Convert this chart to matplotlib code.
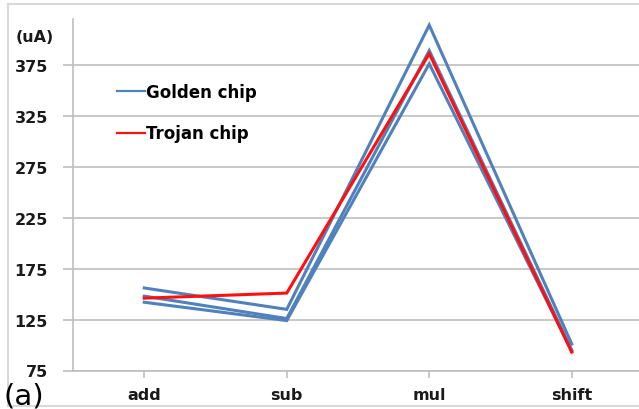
import matplotlib.pyplot as plt
from matplotlib.lines import Line2D

# supply current per operation (uA)
ops = ['add', 'sub', 'mul', 'shift']
golden_1 = [156, 135, 414, 101]
golden_2 = [148, 126, 389, 95]
golden_3 = [142, 124, 376, 94]
trojan = [146, 151, 386, 93]
yticks = [75, 125, 175, 225, 275, 325, 375]

blue = '#4F81BD'
red = '#FF1010'
grid_c = '#BFBFBF'
txt_c = '#1a1a1a'

W, H = 639, 410
fig = plt.figure(figsize=(W / 100, H / 100), dpi=100)

# light frame round the chart area: top, left and bottom edges only
frame = dict(transform=fig.transFigure, color='#D9D9D9', lw=1.5)
fig.add_artist(Line2D([8 / W, 1.0], [1 - 5 / H, 1 - 5 / H], **frame))
fig.add_artist(Line2D([8 / W, 8 / W], [1 - 5 / H, 1 - 407 / H], **frame))
fig.add_artist(Line2D([8 / W, 1.0], [1 - 407 / H, 1 - 407 / H], **frame))

ax = fig.add_axes([73 / W, 1 - 371.5 / H, 570 / W, 351.5 / H])

x = list(range(len(ops)))
for g in (golden_1, golden_2, golden_3):
    ax.plot(x, g, color=blue, lw=2.2, solid_joinstyle='miter')
ax.plot(x, trojan, color=red, lw=2.2, solid_joinstyle='miter')

ax.set_xlim(-0.5, 3.5)
ax.set_ylim(75, 420)
ax.set_xticks(x)
ax.set_xticklabels(ops)
ax.set_yticks(yticks)

for s in ['top', 'right']:
    ax.spines[s].set_visible(False)
for s in ['left', 'bottom']:
    ax.spines[s].set_color(grid_c)
    ax.spines[s].set_linewidth(1.2)

ax.yaxis.grid(True, color=grid_c, lw=1.2)
ax.set_axisbelow(True)
ax.tick_params(axis='y', length=7, width=1.2, color=grid_c, pad=11,
               labelsize=11.5, labelcolor=txt_c)
ax.tick_params(axis='x', length=5, width=1.2, color=grid_c, pad=7,
               labelsize=11.5, labelcolor=txt_c)
for lab in ax.get_xticklabels() + ax.get_yticklabels():
    lab.set_fontweight('bold')

fig.text(16 / W, 1 - 38 / H, '(uA)', ha='left', va='center',
         fontsize=11.5, fontweight='bold', color=txt_c)
fig.text(3 / W, 1 - 397 / H, '(a)', ha='left', va='center',
         fontsize=21, color='black')

handles = [Line2D([], [], color=blue, lw=1.6),
           Line2D([], [], color=red, lw=1.6)]
ax.legend(handles, ['Golden chip', 'Trojan chip'], loc='upper left',
          bbox_to_anchor=(117 / W, 1 - 84 / H), bbox_transform=fig.transFigure,
          frameon=False, borderpad=0, borderaxespad=0, handlelength=1.65,
          handletextpad=0.1, labelspacing=1.4,
          prop={'weight': 'bold', 'size': 12})

fig.savefig('out.png', dpi=100)
